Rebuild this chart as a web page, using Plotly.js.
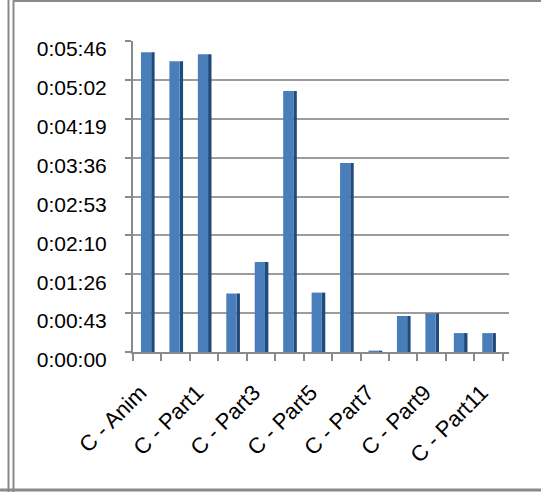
<!DOCTYPE html>
<html>
<head>
<meta charset="utf-8">
<script src="https://cdn.plot.ly/plotly-3.0.1.min.js"></script>
<style>
html,body{margin:0;padding:0;background:#fff;}
#chart{width:541px;height:492px;}
</style>
</head>
<body>
<div id="chart"></div>
<script>
// Data (durations in seconds)
const categories = ["C - Anim","C - Part0","C - Part1","C - Part2","C - Part3","C - Part4","C - Part5","C - Part6","C - Part7","C - Part8","C - Part9","C - Part10","C - Part11"];
const durations = [333, 323, 331, 65, 100, 290, 66, 210, 1.5, 40, 43, 21, 21];
const yTickVals = [0, 43.2, 86.4, 129.6, 172.8, 216, 259.2, 302.4, 345.6];
const yTickText = ["0:00:00","0:00:43","0:01:26","0:02:10","0:02:53","0:03:36","0:04:19","0:05:02","0:05:46"];
const xTickText = categories.map((c, i) => (i % 2 === 0 ? c : ""));

const W = 541, H = 492;
const M = {l: 133, r: 32, t: 41, b: 140};
const pw = W - M.l - M.r, ph = H - M.t - M.b;
const px = x => (x - M.l) / pw;
const py = y => (H - M.b - y) / ph;

const face = {
  type: "bar", x: categories, y: durations,
  width: 0.36, offset: -0.22,
  marker: {color: "#4a7ebb", line: {width: 0}},
  hoverinfo: "x+y", showlegend: false
};
const side = {
  type: "bar", x: categories, y: durations,
  width: 0.12, offset: 0.14,
  marker: {color: "#1f4a7c", line: {width: 0}},
  hoverinfo: "skip", showlegend: false
};

const frameColor = "#8a8a8a";
const layout = {
  width: W, height: H,
  margin: M,
  paper_bgcolor: "#ffffff", plot_bgcolor: "#ffffff",
  barmode: "overlay",
  font: {family: "Liberation Sans, Arial, sans-serif", color: "#000"},
  xaxis: {
    type: "category",
    range: [-0.5, 12.72],
    tickmode: "array", tickvals: categories, ticktext: xTickText,
    tickangle: -45, tickfont: {size: 22, color: "#000"},
    ticks: "outside", tickson: "boundaries", ticklen: 7, tickcolor: frameColor, tickwidth: 2,
    showline: true, linecolor: frameColor, linewidth: 2,
    showgrid: false, fixedrange: true, ticklabelstandoff: 17, ticklabelshift: -7
  },
  yaxis: {
    range: [0, 345.6],
    tickmode: "array", tickvals: yTickVals, ticktext: yTickText,
    tickfont: {size: 21, color: "#000"},
    ticks: "outside", ticklen: 6, tickcolor: frameColor, tickwidth: 2,
    showline: true, linecolor: frameColor, linewidth: 2,
    showgrid: true, gridcolor: "#9c9c9c", gridwidth: 2,
    zeroline: false, fixedrange: true,
    ticklabelshift: 8, ticklabelstandoff: 14
  },
  shapes: [
    {type: "line", xref: "paper", yref: "paper", x0: px(8.5), x1: px(8.5), y0: py(0), y1: py(492), line: {color: frameColor, width: 2}},
    {type: "line", xref: "paper", yref: "paper", x0: px(13.5), x1: px(13.5), y0: py(0), y1: py(492), line: {color: frameColor, width: 2}},
    {type: "line", xref: "paper", yref: "paper", x0: px(13), x1: px(541), y0: py(1), y1: py(1), line: {color: frameColor, width: 2}},
    {type: "line", xref: "paper", yref: "paper", x0: px(0), x1: px(541), y0: py(490), y1: py(490), line: {color: frameColor, width: 3}}
  ]
};

Plotly.newPlot("chart", [side, face], layout, {displayModeBar: false, staticPlot: true});
</script>
</body>
</html>
